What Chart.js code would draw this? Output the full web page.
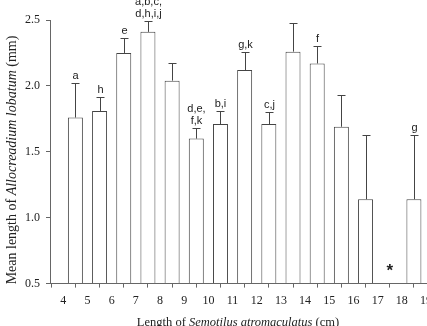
<!DOCTYPE html>
<html>
<head>
<meta charset="utf-8">
<script src="https://cdn.jsdelivr.net/npm/chart.js@4/dist/chart.umd.min.js"></script>
<style>
html,body{margin:0;padding:0;background:#fff;overflow:hidden;}
#wrap{position:absolute;left:0;top:0;width:438px;height:326px;}
</style>
</head>
<body>
<div id="wrap"><canvas id="c" width="438" height="326"></canvas></div>
<script>
// Fish length bins (cm) – bar centres
const binCentres = [4.5, 5.5, 6.5, 7.5, 8.5, 9.5, 10.5, 11.5, 12.5, 13.5, 14.5, 15.5, 16.5, 18.5];
// Mean length of Allocreadium lobatum (mm)
const meanLength = [1.76, 1.81, 2.25, 2.41, 2.04, 1.60, 1.71, 2.12, 1.71, 2.26, 2.17, 1.69, 1.14, 1.14];
// Upper end of error bars (mean + SE)
const errorUpper = [2.02, 1.915, 2.36, 2.49, 2.17, 1.68, 1.81, 2.26, 1.80, 2.48, 2.30, 1.93, 1.625, 1.625];
// Significance letters above each bar
const sigLetters = [["a"], ["h"], ["e"], ["a,b,c,", "d,h,i,j"], [], ["d,e,", "f,k"], ["b,i"], ["g,k"], ["c,j"], [], ["f"], [], [], ["g"]];
// Bins with no worms (asterisk)
const noDataBins = [17.5];
// Axis tick labels
const xTickValues = [4, 5, 6, 7, 8, 9, 10, 11, 12, 13, 14, 15, 16, 17, 18, 19];
const yTickValues = [0.5, 1.0, 1.5, 2.0, 2.5];

const SERIF = '"Liberation Serif", "Times New Roman", serif';
const SANS = '"Liberation Sans", Arial, sans-serif';
const AXIS = '#666';
const INK = '#444';

const extras = {
  id: 'extras',
  afterDatasetsDraw(chart) {
    const ctx = chart.ctx;
    const xs = chart.scales.x, ys = chart.scales.y;
    ctx.save();
    // error bars
    ctx.strokeStyle = INK;
    ctx.lineWidth = 1;
    binCentres.forEach((b, i) => {
      const px = Math.round(xs.getPixelForValue(b)) + 0.5;
      const y0 = ys.getPixelForValue(meanLength[i]);
      const y1 = Math.round(ys.getPixelForValue(errorUpper[i])) + 0.5;
      ctx.beginPath();
      ctx.moveTo(px, y0);
      ctx.lineTo(px, y1);
      ctx.moveTo(px - 4, y1);
      ctx.lineTo(px + 4, y1);
      ctx.stroke();
      // letters
      const lines = sigLetters[i];
      ctx.fillStyle = '#222';
      ctx.font = '11px ' + SANS;
      ctx.textAlign = 'center';
      ctx.textBaseline = 'alphabetic';
      for (let k = 0; k < lines.length; k++) {
        const yy = y1 - 5 - (lines.length - 1 - k) * 12;
        ctx.fillText(lines[k], px, yy);
      }
    });
    // asterisk
    ctx.fillStyle = '#222';
    ctx.font = 'bold 17px ' + SANS;
    ctx.textAlign = 'center';
    ctx.textBaseline = 'middle';
    noDataBins.forEach(b => {
      ctx.fillText('*', xs.getPixelForValue(b), chart.chartArea.bottom - 12);
    });
    // axis titles
    ctx.fillStyle = '#222';
    ctx.textBaseline = 'middle';
    function mixed(parts, cx, cy, size) {
      let w = 0;
      parts.forEach(p => { ctx.font = (p[1] ? 'italic ' : '') + size + 'px ' + SERIF; w += ctx.measureText(p[0]).width; });
      let x = cx - w / 2;
      ctx.textAlign = 'left';
      parts.forEach(p => { ctx.font = (p[1] ? 'italic ' : '') + size + 'px ' + SERIF; ctx.fillText(p[0], x, cy); x += ctx.measureText(p[0]).width; });
    }
    mixed([['Length of ', false], ['Semotilus atromaculatus', true], [' (cm)', false]], 238, 323, 12.5);
    ctx.save();
    ctx.translate(12, 160);
    ctx.rotate(-Math.PI / 2);
    mixed([['Mean length of ', false], ['Allocreadium lobatum', true], [' (mm)', false]], 0, 0, 14);
    ctx.restore();
    ctx.restore();
  }
};

new Chart(document.getElementById('c'), {
  type: 'bar',
  data: {
    datasets: [{
      data: binCentres.map((b, i) => ({ x: b, y: meanLength[i] })),
      backgroundColor: '#fff',
      borderColor: INK,
      borderWidth: 1,
      borderSkipped: 'start',
      barPercentage: 0.62,
      categoryPercentage: 1,
      base: 0.5
    }]
  },
  options: {
    responsive: false,
    animation: false,
    layout: { padding: { top: 20, bottom: 12, left: 0, right: 0 } },
    plugins: { legend: { display: false }, tooltip: { enabled: false } },
    scales: {
      x: {
        type: 'linear',
        min: 3.45,
        max: 19,
        offset: false,
        afterBuildTicks: s => { s.ticks = xTickValues.map(v => ({ value: v })); },
        grid: { drawOnChartArea: false, tickLength: 4, color: AXIS },
        border: { color: AXIS },
        ticks: { font: { family: SERIF, size: 12 }, color: '#222', padding: 6, maxRotation: 0, autoSkip: false }
      },
      y: {
        min: 0.5,
        max: 2.5,
        afterBuildTicks: s => { s.ticks = yTickValues.map(v => ({ value: v })); },
        afterFit: s => { s.width = 50; },
        grid: { drawOnChartArea: false, tickLength: 4, color: AXIS },
        border: { color: AXIS },
        ticks: { font: { family: SERIF, size: 12 }, color: '#222', padding: 6, callback: v => v.toFixed(1) }
      }
    }
  },
  plugins: [extras]
});
</script>
</body>
</html>
